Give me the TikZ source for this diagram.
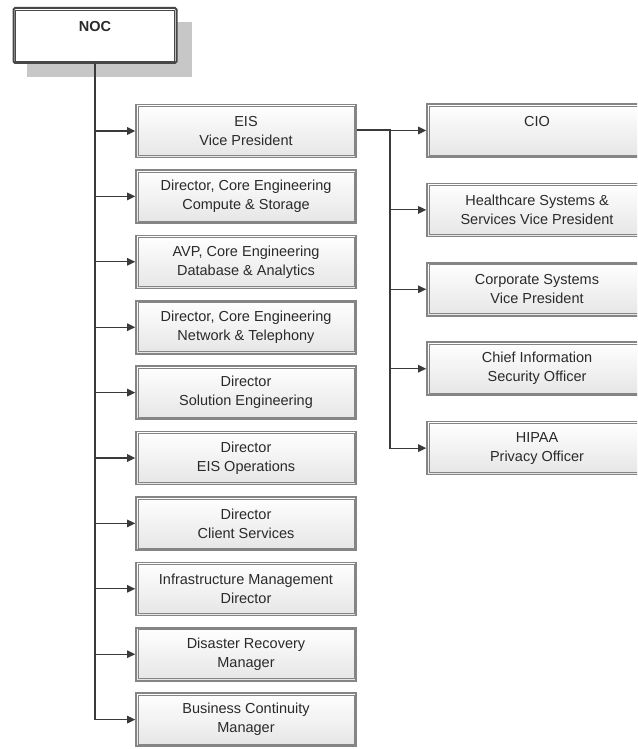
\documentclass[tikz,border=0pt]{standalone}
\usepackage{fontspec}
\setmainfont{Liberation Sans}
\usetikzlibrary{arrows.meta}
\definecolor{linec}{HTML}{3A3A3A}
\definecolor{framec}{HTML}{858585}
\definecolor{textc}{HTML}{2A2A2A}
\begin{document}
\begin{tikzpicture}[x=1pt,y=-1pt,
  every node/.style={font=\fontsize{14.5}{19}\selectfont, text=textc, align=center},
  orgbox/.style={draw=framec, line width=1.6pt, top color=white, bottom color=black!10,
    minimum width=220pt, minimum height=53pt, inner sep=0pt},
  innerframe/.style={draw=framec, line width=0.7pt},
  rootbox/.style={draw=black!72, line width=2pt, fill=white, rounded corners=1.5pt,
    minimum width=163pt, minimum height=55pt, inner sep=0pt},
  conn/.style={draw=linec, line width=1.1pt, -{Triangle[length=8pt,width=7.5pt]}},
  plain/.style={draw=linec, line width=1.3pt}]
\clip (0,0) rectangle (637,749);
\fill[white] (0,0) rectangle (637,749);

% root with its drop shadow
\fill[black!22] (27,22) rectangle (192,77);
\node[rootbox] (noc) at (95,35.5) {\textbf{NOC}\\{}};
\draw[draw=black!72, line width=0.6pt]
  ([shift={(3,3)}]noc.north west) rectangle ([shift={(-3,-3)}]noc.south east);

% left column
\foreach \nm/\txt [count=\i from 0] in {
  eis/{EIS\\Vice President},
  ces/{Director, Core Engineering\\Compute \& Storage},
  cda/{AVP, Core Engineering\\Database \& Analytics},
  cnt/{Director, Core Engineering\\Network \& Telephony},
  sol/{Director\\Solution Engineering},
  ops/{Director\\EIS Operations},
  cli/{Director\\Client Services},
  inf/{Infrastructure Management\\Director},
  dis/{Disaster Recovery\\Manager},
  bcm/{Business Continuity\\Manager}}
{
  \node[orgbox] (\nm) at (246,131+65.4*\i) {\txt};
  \draw[innerframe] ([shift={(2.8,2.8)}]\nm.north west) rectangle ([shift={(-2.8,-2.8)}]\nm.south east);
}

% right column
\foreach \nm/\txt [count=\i from 0] in {
  cio/{CIO\\{}},
  hss/{Healthcare Systems \&\\Services Vice President},
  csv/{Corporate Systems\\Vice President},
  ciso/{Chief Information\\Security Officer},
  hpo/{HIPAA\\Privacy Officer}}
{
  \node[orgbox] (\nm) at (537,130.5+79.4*\i) {\txt};
  \draw[innerframe] ([shift={(2.8,2.8)}]\nm.north west) rectangle ([shift={(-2.8,-2.8)}]\nm.south east);
}

% connectors from the root
\draw[plain] (noc.south) -- (noc.south |- bcm.west);
\foreach \nm in {eis,ces,cda,cnt,sol,ops,cli,inf,dis,bcm}
  \draw[conn] (noc.south) |- (\nm.west);

% connectors from EIS
\coordinate (jr) at (390,130);
\draw[plain] (eis.east |- jr) -- (jr) -- (jr |- hpo.west);
\foreach \nm in {cio,hss,csv,ciso,hpo}
  \draw[conn] (jr) |- (\nm.west);
\end{tikzpicture}
\end{document}
